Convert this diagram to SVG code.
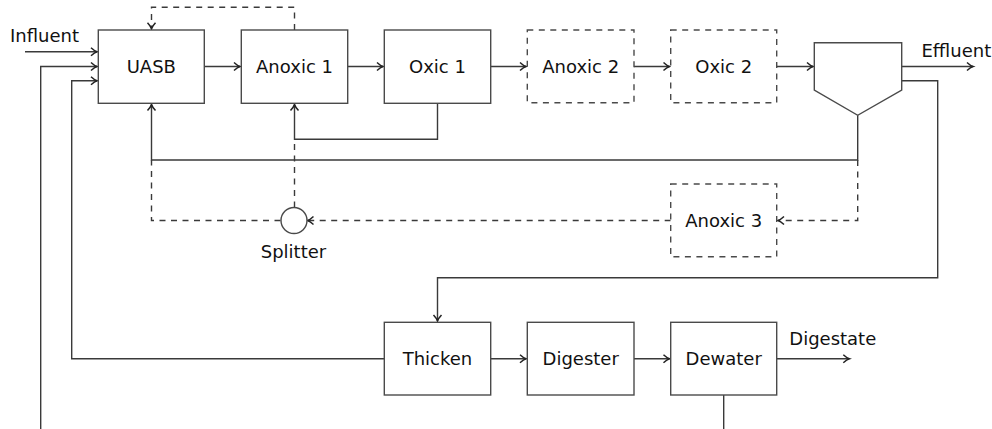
<svg xmlns="http://www.w3.org/2000/svg" width="992" height="429" viewBox="0 0 992 429">
<defs>
<style>
.box{fill:#fff;stroke:#4a4a4a;stroke-width:1.4}
.dbox{fill:#fff;stroke:#4a4a4a;stroke-width:1.4;stroke-dasharray:6 5.5}
.ln{fill:none;stroke:#3a3a3a;stroke-width:1.4}
.dl{fill:none;stroke:#3a3a3a;stroke-width:1.4;stroke-dasharray:6 5.5}
.arr{marker-end:url(#ah)}
text{font-family:"DejaVu Sans","Liberation Sans",sans-serif;font-size:18px;fill:#111}
.c{text-anchor:middle}
</style>
<marker id="ah" markerUnits="userSpaceOnUse" markerWidth="12" markerHeight="12" viewBox="-7 -6 8 12" refX="0" refY="0" orient="auto">
<path d="M-6,-4 Q-2.4,-0.7 0,0 Q-2.4,0.7 -6,4" fill="none" stroke="#222" stroke-width="1.5"/>
</marker>
</defs>
<rect width="992" height="429" fill="#fff"/>

<g id="connectors">
<line class="ln arr" x1="25" y1="51.7" x2="97" y2="51.7"/>
<polyline class="ln arr" points="40.7,429 40.7,66.5 97,66.5"/>
<polyline class="ln arr" points="384.3,358.7 71.7,358.7 71.7,80.7 97,80.7"/>
<line class="ln arr" x1="204.3" y1="66.5" x2="240" y2="66.5"/>
<line class="ln arr" x1="347.7" y1="66.5" x2="383" y2="66.5"/>
<line class="ln arr" x1="490.7" y1="66.5" x2="526" y2="66.5"/>
<line class="ln arr" x1="634" y1="66.5" x2="669.5" y2="66.5"/>
<line class="ln arr" x1="776.7" y1="66.5" x2="813" y2="66.5"/>
<line class="ln arr" x1="901.7" y1="66.5" x2="973" y2="66.5"/>
<polyline class="dl arr" points="294.5,30 294.5,7.3 151.5,7.3 151.5,28.8"/>
<polyline class="ln arr" points="437.5,103.3 437.5,139.3 294.5,139.3 294.5,104.5"/>
<polyline class="ln arr" points="857.7,115.3 857.7,160 151.5,160 151.5,104.5"/>
<polyline class="dl arr" points="857.7,160 857.7,220.5 778,220.5"/>
<line class="dl arr" x1="670.7" y1="220.5" x2="307.5" y2="220.5"/>
<polyline class="dl" points="280.5,220.5 151.5,220.5 151.5,160"/>
<line class="dl" x1="294.5" y1="207.5" x2="294.5" y2="139.3"/>
<polyline class="ln arr" points="901.7,80.7 937.7,80.7 937.7,277.7 437.5,277.7 437.5,321"/>
<line class="ln arr" x1="490.7" y1="358.7" x2="526" y2="358.7"/>
<line class="ln arr" x1="634" y1="358.7" x2="669.5" y2="358.7"/>
<line class="ln arr" x1="776.7" y1="358.7" x2="849.3" y2="358.7"/>
<line class="ln" x1="723.7" y1="395" x2="723.7" y2="429"/>
</g>

<g id="uasb"><rect class="box" x="98.3" y="30" width="106" height="73.3"/><text class="c" x="151.3" y="73.2">UASB</text></g>
<g id="anoxic1"><rect class="box" x="241.3" y="30" width="106.4" height="73.3"/><text class="c" x="294.5" y="73.2">Anoxic 1</text></g>
<g id="oxic1"><rect class="box" x="384.3" y="30" width="106.4" height="73.3"/><text class="c" x="437.5" y="73.2">Oxic 1</text></g>
<g id="anoxic2"><rect class="dbox" x="527.3" y="30" width="106.7" height="72.7"/><text class="c" x="580.7" y="73.2">Anoxic 2</text></g>
<g id="oxic2"><rect class="dbox" x="670.7" y="30" width="106" height="72.7"/><text class="c" x="723.7" y="73.2">Oxic 2</text></g>
<g id="clarifier"><polygon class="box" points="814.3,42.7 901.7,42.7 901.7,90 857.7,115.3 814.3,90"/></g>
<g id="anoxic3"><rect class="dbox" x="670.7" y="184" width="106" height="72.7"/><text class="c" x="723.7" y="227">Anoxic 3</text></g>
<g id="splitter"><circle class="box" cx="294" cy="220.5" r="13"/><text class="c" x="293.5" y="258.3">Splitter</text></g>
<g id="thicken"><rect class="box" x="384.3" y="322.3" width="106.4" height="72.7"/><text class="c" x="437.5" y="365.3">Thicken</text></g>
<g id="digester"><rect class="box" x="527.3" y="322.3" width="106.7" height="72.7"/><text class="c" x="580.7" y="365.3">Digester</text></g>
<g id="dewater"><rect class="box" x="670.7" y="322.3" width="106" height="72.7"/><text class="c" x="723.7" y="365.3">Dewater</text></g>
<g id="labels">
<text x="10" y="42.3">Influent</text>
<text x="921.5" y="56.7">Effluent</text>
<text x="789.3" y="345">Digestate</text>
</g>
</svg>
